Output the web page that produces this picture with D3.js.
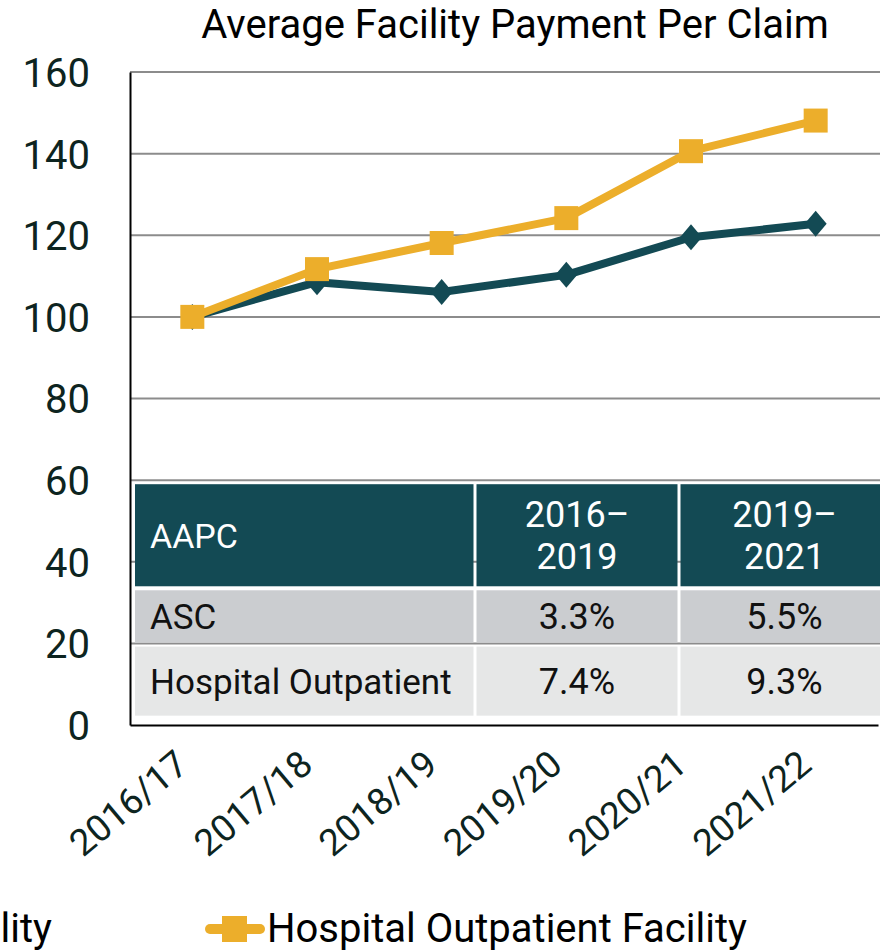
<!DOCTYPE html>
<html>
<head>
<meta charset="utf-8">
<script src="https://cdn.jsdelivr.net/npm/d3@7"></script>
<style>
  body { margin: 0; background: #fff; }
  svg { display: block; }
  text { font-family: Roboto, "Noto Sans", sans-serif; }
  .tick text { font-family: Roboto, "Noto Sans", sans-serif; fill: #0d2420; }
</style>
</head>
<body>
<svg width="880" height="952"></svg>
<script>
// data
const years = ["2016/17", "2017/18", "2018/19", "2019/20", "2020/21", "2021/22"];
const ascValues = [100, 108.5, 106.1, 110.3, 119.5, 122.8];
const hospitalValues = [100, 111.7, 118.1, 124.2, 140.6, 148.1];
const yTicks = [0, 20, 40, 60, 80, 100, 120, 140, 160];
const tableHeader = ["AAPC", "2016–\n2019", "2019–\n2021"];
const tableRows = [
    ["ASC", "3.3%", "5.5%"],
    ["Hospital Outpatient", "7.4%", "9.3%"]
];
const legendNames = ["ASC Facility", "Hospital Outpatient Facility"];

const teal = "#134a54", gold = "#ecae2b";

const margin = { top: 72, right: 2, bottom: 227, left: 130 },
    width = 880 - margin.left - margin.right,
    height = 952 - margin.top - margin.bottom;

const svg = d3.select("svg");
const g = svg.append("g")
    .attr("transform", "translate(" + margin.left + "," + margin.top + ")");

const x = d3.scaleBand().domain(years).range([0, width]);
const y = d3.scaleLinear().domain([0, 160]).range([height, 0]);

function label(parent, px, py, txt, size, anchor) {
    return parent.append("text")
        .attr("x", px).attr("y", py)
        .attr("text-anchor", anchor || "start")
        .style("font-size", size + "px")
        .text(txt);
}

// title
label(svg, 515, 38, "Average Facility Payment Per Claim", 40, "middle")
    .style("font-weight", 450)
    .attr("fill", "#000");

// gridlines
g.selectAll(".grid")
    .data(yTicks.filter(d => d > 0))
    .enter().append("line")
    .attr("class", "grid")
    .attr("x1", 0).attr("x2", width + 10)
    .attr("y1", d => y(d)).attr("y2", d => y(d))
    .attr("stroke", "#8c8c8c").attr("stroke-width", 2);

// y axis
const yAxis = g.append("g")
    .call(d3.axisLeft(y).tickValues(yTicks).tickSize(0).tickPadding(40));
yAxis.select(".domain").attr("stroke", "#000").attr("stroke-width", 2);
yAxis.selectAll("text").style("font-size", "40px").attr("dy", "0.36em");

// lines
const line = vals => d3.line()
    .x((d, i) => x(years[i]) + x.bandwidth() / 2)
    .y(d => y(d))(vals);

g.append("path")
    .attr("d", line(ascValues))
    .attr("fill", "none").attr("stroke", teal).attr("stroke-width", 8)
    .attr("stroke-linejoin", "round");

g.selectAll(".diamond")
    .data(ascValues)
    .enter().append("path")
    .attr("class", "diamond")
    .attr("d", "M0,-13L11,0L0,13L-11,0Z")
    .attr("fill", teal)
    .attr("transform", (d, i) => "translate(" + (x(years[i]) + x.bandwidth() / 2) + "," + y(d) + ")");

g.append("path")
    .attr("d", line(hospitalValues))
    .attr("fill", "none").attr("stroke", gold).attr("stroke-width", 8)
    .attr("stroke-linejoin", "round");

g.selectAll(".square")
    .data(hospitalValues)
    .enter().append("rect")
    .attr("class", "square")
    .attr("x", (d, i) => x(years[i]) + x.bandwidth() / 2 - 12)
    .attr("y", d => y(d) - 12)
    .attr("width", 24).attr("height", 24)
    .attr("fill", gold);

// table overlay
const colX = [5, 345, 549, 760];
const rowY = [y(59), y(33.5), y(19.7), y(1.8)];
const table = g.append("g");
const cells = [tableHeader].concat(tableRows);
const rowFill = [teal, "#cbcdd0", "#e6e7e7"];
cells.forEach((row, r) => {
    row.forEach((val, c) => {
        table.append("rect")
            .attr("x", colX[c] + (c ? 1.5 : 0))
            .attr("y", rowY[r] + (r ? 2 : 0))
            .attr("width", colX[c + 1] - colX[c] - (c ? 1.5 : 0) - 1.5)
            .attr("height", rowY[r + 1] - rowY[r] - (r ? 2 : 0) - 2)
            .attr("fill", rowFill[r]);
        const cy = (rowY[r] + rowY[r + 1]) / 2 + (r ? 1 : 0);
        const cx = c === 0 ? colX[c] + 15 : (colX[c] + colX[c + 1]) / 2;
        const parts = val.split("\n");
        parts.forEach((p, k) => {
            const ty = cy + (k - (parts.length - 1) / 2) * 42 + 12;
            const size = r === 0 ? (c === 0 ? 34 : 36) : (c === 0 ? 35 : 36);
            label(table, cx, ty, p, size, c === 0 ? "start" : "middle")
                .attr("fill", r === 0 ? "#fff" : "#111");
        });
    });
});

// x axis
const xAxis = g.append("g")
    .attr("transform", "translate(0," + height + ")")
    .call(d3.axisBottom(x).tickSize(0).tickPadding(0));
xAxis.select(".domain").attr("stroke", "#000").attr("stroke-width", 2);
xAxis.selectAll("text")
    .style("font-size", "37px")
    .attr("text-anchor", "end")
    .attr("dy", null)
    .attr("transform", "translate(-2,43) rotate(-40)");

// legend
const legend = svg.append("g").attr("transform", "translate(0,929)");
label(legend, 52, 13, legendNames[0], 40, "end");
legend.append("line")
    .attr("x1", 210).attr("x2", 260)
    .attr("stroke", gold).attr("stroke-width", 10).attr("stroke-linecap", "round");
legend.append("rect")
    .attr("x", 222).attr("y", -13).attr("width", 25).attr("height", 26)
    .attr("fill", gold);
label(legend, 267, 13, legendNames[1], 40);
</script>
</body>
</html>
